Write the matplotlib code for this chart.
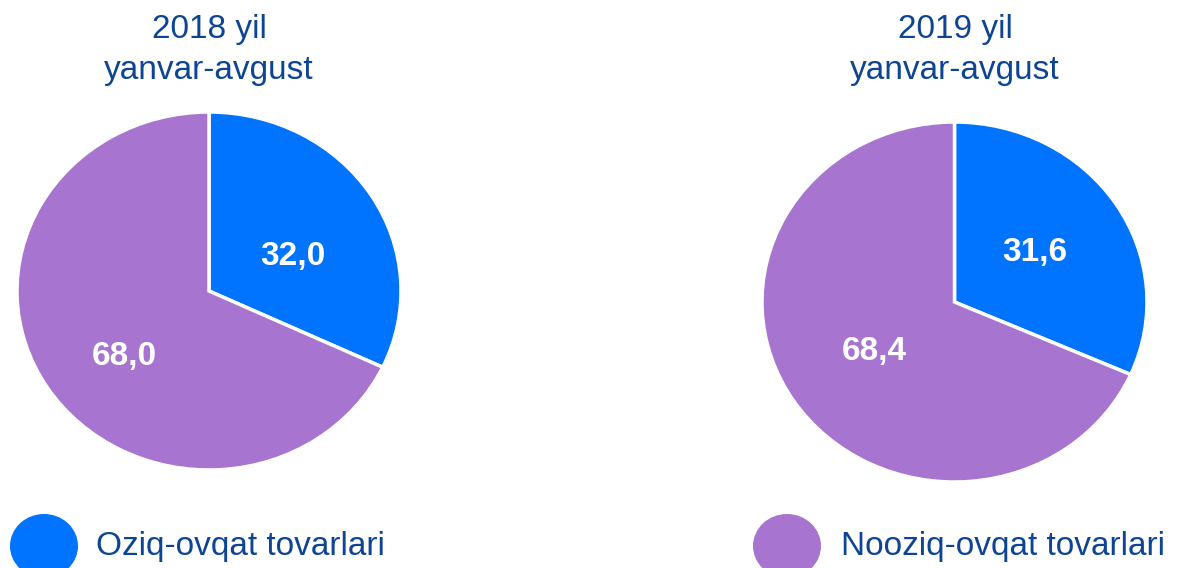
import matplotlib
matplotlib.use("Agg")
import matplotlib.pyplot as plt
from matplotlib.patches import Ellipse

plt.rcParams['font.family'] = ['Liberation Sans', 'DejaVu Sans']

categories = ["Oziq-ovqat tovarlari", "Nooziq-ovqat tovarlari"]
titles = ["2018 yil\nyanvar-avgust", "2019 yil\nyanvar-avgust"]
values_2018 = [32.0, 68.0]
values_2019 = [31.6, 68.4]
colors = ["#0073FF", "#A775CF"]
text_color = "#0D4494"

W, H = 1179, 568
fig = plt.figure(figsize=(W / 100, H / 100), dpi=100)

def px_axes(x0, y0, x1, y1):
    return fig.add_axes([x0 / W, 1 - y1 / H, (x1 - x0) / W, (y1 - y0) / H])

def fmt(p):
    return f"{p:.1f}".replace(".", ",")

pies = [(values_2018, (17, 112, 401, 470), 0.52, "top"),
        (values_2019, (762, 122, 1147, 482), 0.5, "center")]
for vals, box, pdist, va in pies:
    ax = px_axes(*box)
    wedges, texts, autotexts = ax.pie(
        vals, colors=colors, startangle=90, counterclock=False,
        autopct=fmt, pctdistance=pdist,
        wedgeprops=dict(edgecolor="white", linewidth=2.5),
        textprops=dict(color="white", fontsize=24, fontweight="bold", va=va))
    ax.set_aspect("auto")
    ax.set_xlim(-1, 1)
    ax.set_ylim(-1, 1)
    ax.axis("off")

# overlay for titles and legend
ov = fig.add_axes([0, 0, 1, 1])
ov.set_xlim(0, W)
ov.set_ylim(H, 0)
ov.axis("off")

for t, cx in zip(titles, [209, 955]):
    ov.text(cx, 50, t, ha="center", va="center", fontsize=24,
            color=text_color, linespacing=1.45)

for cat, col, cx, tx in zip(categories, colors, [44, 787], [96, 841]):
    ov.add_patch(Ellipse((cx, 546), 68, 64, facecolor=col, edgecolor="none"))
    ov.text(tx, 547, cat, ha="left", va="center", fontsize=24, color=text_color)

fig.savefig("out.png", dpi=100)
